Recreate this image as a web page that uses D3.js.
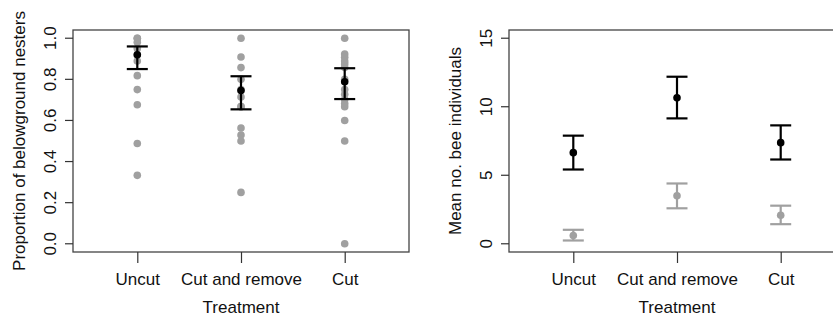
<!DOCTYPE html>
<html lang="en">
<head>
<meta charset="UTF-8">
<title>Belowground nesters and bee individuals</title>
<style>
  body { margin: 0; background: #fff; }
  svg { display: block; font-family: "Liberation Sans", Arial, sans-serif; }
  .lab { fill: #111; font-size: 17px; }
</style>
</head>
<body>
<div id="chart"></div>
<script src="https://d3js.org/d3.v7.min.js"></script>
<script>
const treatments = ['Uncut', 'Cut and remove', 'Cut']

// left panel: raw proportions per site
const propUncut = [1.0, 1.0, 0.98, 0.95, 0.92, 0.889, 0.818, 0.75, 0.676, 0.488, 0.333]
const propCutRemove = [1.0, 0.909, 0.857, 0.8, 0.75, 0.714, 0.667, 0.667, 0.563, 0.529, 0.5, 0.25]
const propCut = [1.0, 0.923, 0.907, 0.889, 0.875, 0.857, 0.8, 0.75, 0.727, 0.702, 0.682, 0.667, 0.6, 0.5, 0.0]
const propMean = [0.919, 0.746, 0.788]
const propLower = [0.85, 0.654, 0.704]
const propUpper = [0.96, 0.815, 0.854]
const propTicks = [0, 0.2, 0.4, 0.6, 0.8, 1.0]

// right panel: mean no. bee individuals (black and grey groups)
const beeMean = [6.65, 10.65, 7.38]
const beeLower = [5.42, 9.15, 6.15]
const beeUpper = [7.89, 12.19, 8.64]
const greyMean = [0.6, 3.51, 2.08]
const greyLower = [0.24, 2.59, 1.43]
const greyUpper = [1.02, 4.4, 2.78]
const beeTicks = [0, 5, 10, 15]

const W = 833, H = 318
const svg = d3.select('#chart').append('svg').attr('width', W).attr('height', H)

const grey = '#a0a0a0'
const plotW = 336, plotTop = 30, plotBottom = 252

function panel(left, yDomain, ticks, yLabel, labelX, tickFmt) {
  const g = svg.append('g')
  // R style: 4% extension on both axes
  const x = d3.scaleLinear().domain([0.5 - 0.12, 3.5 + 0.12]).range([left, left + plotW])
  const span = yDomain[1] - yDomain[0]
  const y = d3.scaleLinear().domain([yDomain[0] - 0.04 * span, yDomain[1] + 0.04 * span]).range([plotBottom, plotTop])

  g.append('rect')
    .attr('x', left).attr('y', plotTop)
    .attr('width', plotW).attr('height', plotBottom - plotTop)
    .attr('fill', 'none').attr('stroke', '#444').attr('stroke-width', 1.3)

  // y axis
  const yAxis = d3.axisLeft(y).tickValues(ticks).tickSize(8).tickFormat(tickFmt)
  const ya = g.append('g').attr('transform', 'translate(' + left + ',0)').call(yAxis)
  ya.select('.domain').remove()
  ya.selectAll('line').attr('stroke', '#333').attr('stroke-width', 1.2)
  ya.selectAll('.tick').attr('transform', null)
  ya.selectAll('text')
    .attr('class', 'lab').attr('x', null).attr('dy', null).attr('y', 0)
    .attr('transform', d => 'translate(-17,' + y(d) + ') rotate(-90)')
    .attr('text-anchor', 'middle')
    .style('font-size', '17px')
  ya.selectAll('line').attr('y1', d => y(d)).attr('y2', d => y(d))

  // x axis
  const xAxis = d3.axisBottom(x).tickValues([1, 2, 3]).tickSize(11).tickFormat(d => treatments[d - 1])
  const xa = g.append('g').attr('transform', 'translate(0,' + plotBottom + ')').call(xAxis)
  xa.select('.domain').remove()
  xa.selectAll('line').attr('stroke', '#333').attr('stroke-width', 1.2)
  xa.selectAll('text').attr('class', 'lab').attr('y', 33).attr('dy', null).style('font-size', '17px')

  g.append('text').attr('class', 'lab')
    .attr('x', x(2)).attr('y', 313)
    .attr('text-anchor', 'middle')
    .text('Treatment')

  g.append('text').attr('class', 'lab')
    .attr('transform', 'translate(' + labelX + ',' + ((plotTop + plotBottom) / 2) + ') rotate(-90)')
    .attr('text-anchor', 'middle')
    .text(yLabel)

  return { g, x, y }
}

function errorBars(p, mean, lower, upper, color, r) {
  const cap = 10.5
  mean.forEach((m, i) => {
    const cx = p.x(i + 1)
    p.g.append('line')
      .attr('x1', cx).attr('x2', cx)
      .attr('y1', p.y(lower[i])).attr('y2', p.y(upper[i]))
      .attr('stroke', color).attr('stroke-width', 2.2)
    ;[lower[i], upper[i]].forEach(v => {
      p.g.append('line')
        .attr('x1', cx - cap).attr('x2', cx + cap)
        .attr('y1', p.y(v)).attr('y2', p.y(v))
        .attr('stroke', color).attr('stroke-width', 2.2)
    })
    p.g.append('circle')
      .attr('cx', cx).attr('cy', p.y(m)).attr('r', r)
      .attr('fill', color)
  })
}

// Left panel
const p1 = panel(73, [0, 1], propTicks, 'Proportion of belowground nesters', 25, d3.format('.1f'))
;[propUncut, propCutRemove, propCut].forEach((vals, i) => {
  p1.g.selectAll(null)
    .data(vals)
    .enter()
    .append('circle')
    .attr('cx', p1.x(i + 1))
    .attr('cy', d => p1.y(d))
    .attr('r', 3.8)
    .attr('fill', grey)
})
errorBars(p1, propMean, propLower, propUpper, '#000', 3.8)

// Right panel
const p2 = panel(509, [0, 15], beeTicks, 'Mean no. bee individuals', 461, d3.format('d'))
errorBars(p2, greyMean, greyLower, greyUpper, grey, 3.8)
errorBars(p2, beeMean, beeLower, beeUpper, '#000', 3.8)
</script>
</body>
</html>
